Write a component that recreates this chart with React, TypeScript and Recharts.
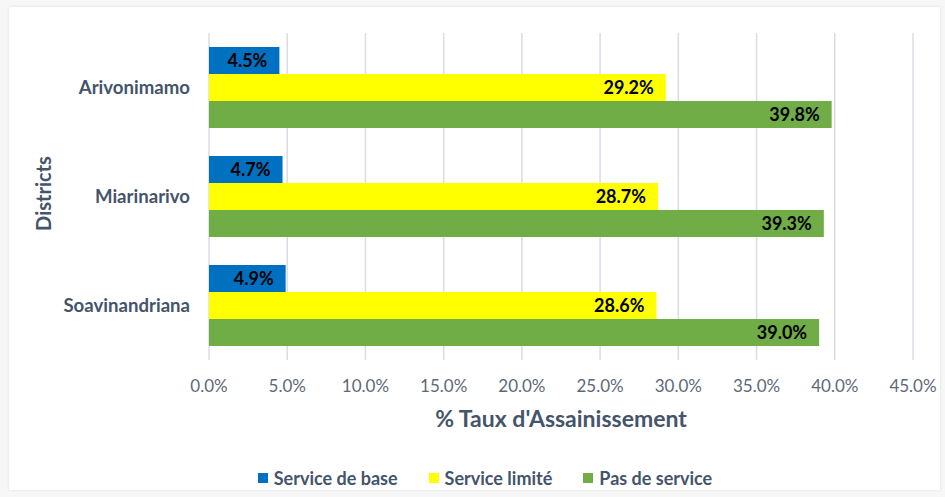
import React from 'react';
import { BarChart, Bar, XAxis, YAxis, CartesianGrid, Legend, LabelList, Label } from 'recharts';

const categories = ['Arivonimamo', 'Miarinarivo', 'Soavinandriana'];
const serviceDeBase = [4.5, 4.7, 4.9];
const serviceLimite = [29.2, 28.7, 28.6];
const pasDeService = [39.8, 39.3, 39.0];
const xTicks = [0, 5, 10, 15, 20, 25, 30, 35, 40, 45];
const seriesNames = ['Service de base', 'Service limité', 'Pas de service'];
const seriesColors = ['#0070C0', '#FFFF00', '#70AD47'];

const data = categories.map((name, i) => ({
  name,
  base: serviceDeBase[i],
  limite: serviceLimite[i],
  pas: pasDeService[i],
}));
const keys = ['base', 'limite', 'pas'];

const FONT = 'Lato, "Open Sans", sans-serif';
const AXIS_COLOR = '#44546A';
const TICK_COLOR = '#5E6878';

const fmt = (v: any) => `${Number(v).toFixed(1)}%`;

const LegendContent = () => (
  <div
    style={{
      height: 40,
      display: 'flex',
      alignItems: 'flex-end',
      justifyContent: 'center',
      paddingLeft: 38,
      boxSizing: 'border-box',
      fontFamily: FONT,
      fontWeight: 700,
      fontSize: 18,
      color: AXIS_COLOR,
    }}
  >
    {seriesNames.map((n, i) => (
      <div key={n} style={{ display: 'flex', alignItems: 'center', marginLeft: i === 0 ? 0 : 31, height: 22 }}>
        <span style={{ width: 10, height: 10, background: seriesColors[i], display: 'inline-block', marginRight: 6 }} />
        <span>{n}</span>
      </div>
    ))}
  </div>
);

export default function App() {
  return (
    <div style={{ position: 'absolute', left: 0, top: 0, width: 945, height: 497, background: '#f7f7f7' }}>
      <div
        style={{
          position: 'absolute',
          left: 9,
          top: 7,
          width: 931,
          height: 483,
          background: '#ffffff',
          boxShadow: '0 0 3px rgba(0,0,0,0.10)',
        }}
      />
      <div style={{ position: 'absolute', left: 0, top: 0 }}>
        <BarChart
          width={945}
          height={497}
          data={data}
          layout="vertical"
          margin={{ top: 33, right: 32, left: 19, bottom: 8 }}
          barCategoryGap={14}
          barGap={0}
        >
          <CartesianGrid horizontal={false} vertical stroke="#D9DCE3" strokeWidth={1.5} />
          <XAxis
            type="number"
            domain={[0, 45]}
            ticks={xTicks}
            tickFormatter={fmt}
            axisLine={false}
            tickLine={false}
            height={89}
            tickMargin={14}
            tick={{ fill: TICK_COLOR, fontFamily: FONT, fontSize: 17 }}
            interval={0}
          >
            <Label
              content={(props: any) => {
                const vb = props.viewBox;
                return (
                  <text
                    x={vb.x + vb.width / 2}
                    y={vb.y + 67}
                    textAnchor="middle"
                    fill={AXIS_COLOR}
                    fontFamily={FONT}
                    fontWeight={700}
                    fontSize={23}
                  >
                    % Taux d'Assainissement
                  </text>
                );
              }}
            />
          </XAxis>
          <YAxis
            type="category"
            dataKey="name"
            width={190}
            axisLine={false}
            tickLine={false}
            tickMargin={13}
            tick={{ fill: AXIS_COLOR, fontFamily: FONT, fontSize: 18.6, fontWeight: 700 }}
          >
            <Label
              content={(props: any) => {
                const vb = props.viewBox;
                const cx = 43;
                const cy = vb.y + vb.height / 2 - 3;
                return (
                  <text
                    x={cx}
                    y={cy}
                    transform={`rotate(-90 ${cx} ${cy})`}
                    textAnchor="middle"
                    dominantBaseline="central"
                    fill={AXIS_COLOR}
                    fontFamily={FONT}
                    fontWeight={700}
                    fontSize={20}
                  >
                    Districts
                  </text>
                );
              }}
            />
          </YAxis>
          <Legend verticalAlign="bottom" content={<LegendContent />} />
          {keys.map((k, i) => (
            <Bar key={k} dataKey={k} name={seriesNames[i]} fill={seriesColors[i]} isAnimationActive={false}>
              <LabelList
                dataKey={k}
                position="insideRight"
                offset={12}
                formatter={fmt}
                fill="#000000"
                fontFamily={FONT}
                fontWeight={700}
                fontSize={18}
              />
            </Bar>
          ))}
        </BarChart>
      </div>
    </div>
  );
}
